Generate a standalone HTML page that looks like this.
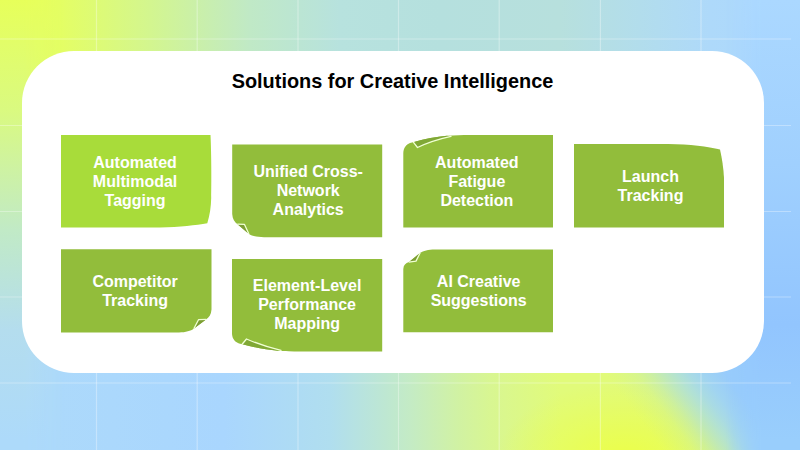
<!DOCTYPE html>
<html lang="en">
<head>
<meta charset="utf-8">
<title>Solutions for Creative Intelligence</title>
<style>
html,body{margin:0;padding:0;}
body{width:800px;height:450px;overflow:hidden;position:relative;font-family:"Liberation Sans",Arial,sans-serif;background:#a9d6fe;}
svg.layer{position:absolute;left:0;top:0;width:800px;height:450px;display:block;}
#panel{position:absolute;left:21.5px;top:50.5px;width:742px;height:322px;border-radius:52px;background:#fff;}
h1{position:absolute;left:-7.5px;top:69px;margin:0;width:800px;text-align:center;font-size:19.9px;font-weight:bold;color:#000;line-height:24px;white-space:nowrap;}
.box{position:absolute;color:#fff;font-weight:bold;font-size:16px;line-height:19px;text-align:center;display:flex;align-items:center;justify-content:center;white-space:nowrap;}
.box span{position:relative;display:block;}
</style>
</head>
<body>

<!-- ============ background mesh ============ -->
<svg class="layer" viewBox="0 0 800 450">
  <defs>
    <linearGradient id="gTop" gradientUnits="userSpaceOnUse" x1="0" y1="0" x2="800" y2="0">
      <stop offset="0" stop-color="#e7ff5a"/>
      <stop offset="0.075" stop-color="#e4fe64"/>
      <stop offset="0.1875" stop-color="#d3f68f"/>
      <stop offset="0.3125" stop-color="#c0e9c6"/>
      <stop offset="0.425" stop-color="#b7e2de"/>
      <stop offset="0.55" stop-color="#b5e0de"/>
      <stop offset="0.70" stop-color="#b7e0dd"/>
      <stop offset="0.80" stop-color="#b2ddec"/>
      <stop offset="0.8875" stop-color="#aed9fa"/>
      <stop offset="1" stop-color="#abd8ff"/>
    </linearGradient>
    <linearGradient id="gBot" gradientUnits="userSpaceOnUse" x1="0" y1="0" x2="800" y2="0">
      <stop offset="0" stop-color="#addafa"/>
      <stop offset="0.28" stop-color="#a9d6fe"/>
      <stop offset="0.4125" stop-color="#b0deef"/>
      <stop offset="0.5125" stop-color="#c4ebc5"/>
      <stop offset="0.575" stop-color="#d1f2a2"/>
      <stop offset="0.6125" stop-color="#d8f692"/>
      <stop offset="0.70" stop-color="#e1fb7a"/>
      <stop offset="1" stop-color="#e1fa7a"/>
    </linearGradient>
    <radialGradient id="gYel" gradientUnits="userSpaceOnUse" cx="625" cy="462" r="130" gradientTransform="translate(0 177.7) scale(1 0.6154)">
      <stop offset="0" stop-color="#ecff46" stop-opacity="1"/>
      <stop offset="1" stop-color="#ecff46" stop-opacity="0"/>
    </radialGradient>
    <linearGradient id="gCut" gradientUnits="userSpaceOnUse" x1="663.5" y1="451.3" x2="740.1" y2="393.5">
      <stop offset="0" stop-color="#9cd6ff" stop-opacity="0"/>
      <stop offset="0.083" stop-color="#9cd6ff" stop-opacity="0.035"/>
      <stop offset="0.175" stop-color="#9cd6ff" stop-opacity="0.085"/>
      <stop offset="0.2575" stop-color="#9cd6ff" stop-opacity="0.14"/>
      <stop offset="0.377" stop-color="#9cd6ff" stop-opacity="0.30"/>
      <stop offset="0.491" stop-color="#9cd6ff" stop-opacity="0.50"/>
      <stop offset="0.592" stop-color="#9cd6ff" stop-opacity="0.66"/>
      <stop offset="0.6975" stop-color="#9bd3fe" stop-opacity="0.80"/>
      <stop offset="0.8167" stop-color="#9ad0fd" stop-opacity="0.91"/>
      <stop offset="0.954" stop-color="#98ccfc" stop-opacity="0.97"/>
      <stop offset="1" stop-color="#98ccfc" stop-opacity="1"/>
    </linearGradient>
    <linearGradient id="gLeft" gradientUnits="userSpaceOnUse" x1="0" y1="0" x2="0" y2="450">
      <stop offset="0" stop-color="#e7ff5a"/>
      <stop offset="0.244" stop-color="#dafa80"/>
      <stop offset="0.511" stop-color="#c1eac6"/>
      <stop offset="0.733" stop-color="#b4ddee"/>
      <stop offset="0.978" stop-color="#addafa"/>
    </linearGradient>
    <linearGradient id="gRight" gradientUnits="userSpaceOnUse" x1="0" y1="0" x2="0" y2="450">
      <stop offset="0" stop-color="#abd8ff"/>
      <stop offset="0.364" stop-color="#a0d0fe"/>
      <stop offset="0.72" stop-color="#92c5fe"/>
      <stop offset="0.978" stop-color="#99cefc"/>
    </linearGradient>
    <linearGradient id="fadeL" gradientUnits="userSpaceOnUse" x1="24" y1="0" x2="64" y2="0">
      <stop offset="0" stop-color="#fff"/><stop offset="1" stop-color="#000"/>
    </linearGradient>
    <linearGradient id="fadeR" gradientUnits="userSpaceOnUse" x1="726" y1="0" x2="761" y2="0">
      <stop offset="0" stop-color="#000"/><stop offset="1" stop-color="#fff"/>
    </linearGradient>
    <mask id="mL" maskUnits="userSpaceOnUse" x="0" y="0" width="800" height="450"><rect x="0" y="0" width="70" height="450" fill="url(#fadeL)"/></mask>
    <mask id="mR" maskUnits="userSpaceOnUse" x="0" y="0" width="800" height="450"><rect x="720" y="0" width="80" height="450" fill="url(#fadeR)"/></mask>
  </defs>
  <rect x="0" y="0" width="800" height="225" fill="url(#gTop)"/>
  <rect x="0" y="225" width="800" height="225" fill="url(#gBot)"/>
  <rect x="0" y="225" width="800" height="225" fill="url(#gYel)"/>
  <rect x="0" y="225" width="800" height="225" fill="url(#gCut)"/>
  <rect x="0" y="0" width="70" height="450" fill="url(#gLeft)" mask="url(#mL)"/>
  <rect x="720" y="0" width="80" height="450" fill="url(#gRight)" mask="url(#mR)"/>
  <!-- faint grid -->
  <g stroke="#ffffff" stroke-opacity="0.32" stroke-width="1.2" fill="none">
    <path d="M96.5,0V450 M197.2,0V450 M298,0V450 M398.5,0V450 M499.2,0V450 M600.4,0V450 M701,0V450"/>
    <path d="M0,39H791 M0,125.5H791 M0,211.5H791 M0,297H791 M0,383H791"/>
  </g>
</svg>

<div id="panel"></div>

<!-- ============ box shapes ============ -->
<svg class="layer" viewBox="0 0 800 450">
  <!-- 1: light green, lifted bottom-right -->
  <path fill="#a8dc3a" d="M61,135 L210.5,135 C211.3,150 211.6,180 211.2,198 C211,207 209.8,215 207.3,223.3 C196,225.2 180,227.2 160,227.5 L61,227.5 Z"/>
  <!-- 2: fold bottom-left -->
  <path fill="#92bd3b" d="M232.2,144.5 L382.2,144.5 L382.2,237.2 L264,237.2 C257,237 252,236 248.7,233.7 L237.5,224.3 C234.6,222 232.5,219 232.2,214 Z"/>
  <path fill="#7c9e34" d="M237.5,224.3 L244.5,224.5 L248.7,233.7 Z"/>
  <path fill="none" stroke="#f0ffd4" stroke-width="1.3" stroke-linejoin="round" d="M237.3,224.2 L244.5,224.4 L248.9,233.9"/>
  <!-- 3: long curl top-left -->
  <path fill="#92bd3b" d="M403.3,227.5 L403.3,153 C403.6,148 406,144.5 410,143 L414,142 C425,139 436,136.8 447,135.8 C455,135.2 462,135 470,135 L553,135 L553,227.5 Z"/>
  <path fill="#80a836" d="M414,142 C425,139 436,136.8 447,135.8 L450,136.4 C438,139 427,143 417.5,147.5 Z"/>
  <path fill="none" stroke="#f0ffd4" stroke-width="1.3" stroke-linejoin="round" stroke-linecap="round" d="M413.5,142.3 L417.5,147.5 C427,143 438,139.2 451,136.4"/>
  <!-- 4: lifted top-right -->
  <path fill="#92bd3b" d="M574,144 L668,144 C690,144.3 708,146.5 720,149.5 C722,158 723.5,168 724,178 L724,227.5 L574,227.5 Z"/>
  <!-- 5: fold bottom-right -->
  <path fill="#92bd3b" d="M61,249.2 L211.5,249.2 L211.5,309.5 C211.2,314.5 209,317.5 206,319.5 L194,328.5 C190.5,331 186,332.3 179,332.5 L61,332.5 Z"/>
  <path fill="#7c9e34" d="M206,319.5 L198.5,319.8 L194,328.5 Z"/>
  <path fill="none" stroke="#f0ffd4" stroke-width="1.3" stroke-linejoin="round" d="M206.2,319.4 L198.5,319.7 L193.8,328.7"/>
  <!-- 6: long curl bottom-left -->
  <path fill="#92bd3b" d="M232,259 L382.2,259 L382.2,351.5 L300,351.5 C292,351.5 285,351.5 278,350.8 C266,349.8 254,347.3 242.5,344.3 L239,343.5 C235,342 232.4,339 232,334 Z"/>
  <path fill="#80a836" d="M242.5,344.3 C254,347.3 266,349.8 278,350.8 L280,350.2 C268,347.5 257,343.5 246.5,339 Z"/>
  <path fill="none" stroke="#f0ffd4" stroke-width="1.3" stroke-linejoin="round" stroke-linecap="round" d="M242.3,344 L246.5,339 C257,343.5 268,347.5 281,350.3"/>
  <!-- 7: fold top-left -->
  <path fill="#92bd3b" d="M403.3,332.2 L403.3,269 C403.6,265 405.5,263 409,262 L420,253 C423.5,250.8 428,249.7 435,249.5 L553,249.5 L553,332.2 Z"/>
  <path fill="#7c9e34" d="M409,262 L416,261 L420,253 Z"/>
  <path fill="none" stroke="#f0ffd4" stroke-width="1.3" stroke-linejoin="round" d="M408.8,262.2 L416,261.1 L420.2,252.8"/>
</svg>

<h1>Solutions for Creative Intelligence</h1>

<div class="box" style="left:61px;top:135px;width:150.5px;height:92.5px"><span style="left:-1.2px">Automated<br>Multimodal<br>Tagging</span></div>
<div class="box" style="left:232.2px;top:144.5px;width:150px;height:92.7px"><span style="left:1px;top:-0.5px">Unified Cross-<br>Network<br>Analytics</span></div>
<div class="box" style="left:403.3px;top:135px;width:149.7px;height:92.5px"><span style="left:-1.3px">Automated<br>Fatigue<br>Detection</span></div>
<div class="box" style="left:574px;top:144px;width:150px;height:83.5px"><span style="left:1.5px">Launch<br>Tracking</span></div>
<div class="box" style="left:61px;top:249.2px;width:150.5px;height:83.3px"><span style="left:-1.2px">Competitor<br>Tracking</span></div>
<div class="box" style="left:232px;top:259px;width:150.2px;height:92.5px"><span style="top:-0.5px">Element-Level<br>Performance<br>Mapping</span></div>
<div class="box" style="left:403.3px;top:249.5px;width:149.7px;height:82.7px"><span style="left:0.5px">AI Creative<br>Suggestions</span></div>

</body>
</html>
